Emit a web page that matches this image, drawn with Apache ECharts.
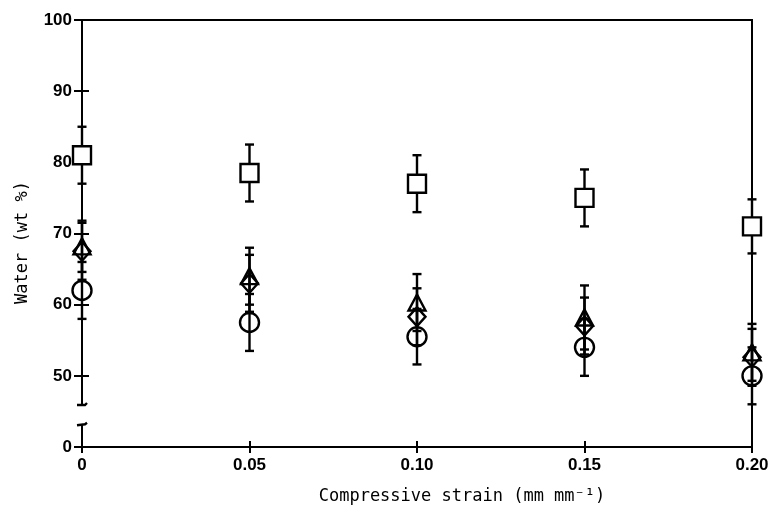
<!DOCTYPE html>
<html><head><meta charset="utf-8">
<script src="https://cdn.jsdelivr.net/npm/echarts@6/dist/echarts.min.js"></script>
<style>html,body{margin:0;padding:0;background:#fff}#c{width:773px;height:517px}</style>
</head><body><div id="c"></div>
<script>
// x values: compressive strain (mm mm-1)
const strain = [0, 0.05, 0.10, 0.15, 0.20];
const xTickLabels = ['0', '0.05', '0.10', '0.15', '0.20'];
// water content (wt %), four sample groups, with +/- error
const squareVals   = [81, 78.5, 77, 75, 71];
const squareErr    = [4, 4, 4, 4, 3.8];
const triangleVals = [68.2, 64, 60.3, 58.2, 53.3];
const triangleErr  = [3.6, 4, 4, 4.5, 4];
const diamondVals  = [67.5, 63, 58.3, 57, 52.6];
const diamondErr   = [4, 4, 4, 4, 4];
const circleVals   = [62, 57.5, 55.5, 54, 50];
const circleErr    = [4, 4, 3.9, 4, 4];
// broken y axis: plotted positions and the labels shown there
const yTickValues = [40, 50, 60, 70, 80, 90, 100];
const yTickLabels = ['0', '50', '60', '70', '80', '90', '100'];
const yBreak = [43.2, 45.9];

const pts = v => strain.map((x, i) => [x, v[i]]);
const errs = (v, e) => strain.map((x, i) => [x, v[i] - e[i], v[i] + e[i]]);
const errData = [].concat(errs(squareVals, squareErr), errs(triangleVals, triangleErr),
  errs(diamondVals, diamondErr), errs(circleVals, circleErr));

const lw = 2.4;
function errRender(params, api) {
  const x = api.value(0), lo = api.value(1), hi = api.value(2);
  const p1 = api.coord([x, hi]), p2 = api.coord([x, lo]);
  const w = 4.5;
  const st = { stroke: '#000', lineWidth: lw };
  return { type: 'group', children: [
    { type: 'line', shape: { x1: p1[0], y1: p1[1], x2: p2[0], y2: p2[1] }, style: st },
    { type: 'line', shape: { x1: p1[0] - w, y1: p1[1], x2: p1[0] + w, y2: p1[1] }, style: st },
    { type: 'line', shape: { x1: p2[0] - w, y1: p2[1], x2: p2[0] + w, y2: p2[1] }, style: st }
  ]};
}
function breakRender(params, api) {
  const x = api.value(0), lo = api.value(1), hi = api.value(2);
  const a = api.coord([x, hi]), b = api.coord([x, lo]);
  const st = { stroke: '#000', lineWidth: lw };
  return { type: 'group', children: [
    { type: 'rect', shape: { x: a[0] - 5, y: a[1], width: 10, height: b[1] - a[1] }, style: { fill: '#fff' } },
    { type: 'polyline', shape: { points: [[a[0] - 5, a[1]], [a[0] + 3, a[1]], [a[0] + 5, a[1] - 2]] }, style: { ...st, fill: null } },
    { type: 'polyline', shape: { points: [[b[0] - 5, b[1] + 1], [b[0] + 3, b[1]], [b[0] + 5, b[1] - 1.5]] }, style: { ...st, fill: null } }
  ]};
}

const labelFont = { color: '#000', fontFamily: 'Liberation Sans', fontWeight: 'bold', fontSize: 17 };
const titleFont = { color: '#000', fontFamily: 'DejaVu Sans Mono', fontSize: 17 };
const axLine = { show: true, lineStyle: { color: '#000', width: 2 } };
const tickStyle = { color: '#000', width: 2 };
const mk = fill => ({ color: fill, borderColor: '#000', borderWidth: 2.4, opacity: 1 });

const chart = echarts.init(document.getElementById('c'));
chart.setOption({
  animation: false,
  backgroundColor: '#fff',
  grid: { left: 82, right: 21, top: 20, bottom: 70, show: true, borderColor: '#000', borderWidth: 2 },
  xAxis: [
    { type: 'value', min: 0, max: 0.2, interval: 0.05, position: 'bottom',
      axisLine: axLine, splitLine: { show: false },
      axisTick: { show: true, inside: false, length: 6, lineStyle: tickStyle },
      axisLabel: { ...labelFont, margin: 10,
        formatter: v => xTickLabels[Math.round(v / 0.05)] },
      name: 'Compressive strain (mm mm⁻¹)', nameLocation: 'middle', nameGap: 41,
      nameTextStyle: { ...titleFont, padding: [0, 0, 0, 90] } },
    { type: 'value', min: 0, max: 0.2, interval: 0.05, position: 'bottom',
      axisLine: { show: false }, splitLine: { show: false }, axisLabel: { show: false },
      axisTick: { show: true, inside: true, length: 6, lineStyle: tickStyle } }
  ],
  yAxis: [
    { type: 'value', min: 40, max: 100, interval: 10, position: 'left',
      axisLine: axLine, splitLine: { show: false },
      axisTick: { show: true, inside: false, length: 8, lineStyle: tickStyle },
      axisLabel: { ...labelFont, margin: 10,
        formatter: v => yTickLabels[yTickValues.indexOf(v)] },
      name: 'Water (wt %)', nameLocation: 'middle', nameGap: 51,
      nameTextStyle: { ...titleFont, padding: [0, 18, 0, 0] } },
    { type: 'value', min: 40, max: 100, interval: 10, position: 'left',
      axisLine: { show: false }, splitLine: { show: false }, axisLabel: { show: false },
      axisTick: { show: true, inside: true, length: 7, lineStyle: tickStyle } }
  ],
  series: [
    { type: 'custom', name: 'errors', renderItem: errRender, data: errData, clip: false, z: 2 },
    { type: 'custom', name: 'break', renderItem: breakRender, data: [[0, yBreak[0], yBreak[1]]], clip: false, z: 3 },
    { type: 'scatter', name: 'square', data: pts(squareVals), symbol: 'rect', symbolSize: 18, z: 4,
      itemStyle: mk('#fff') },
    { type: 'scatter', name: 'triangle', data: pts(triangleVals), symbol: 'triangle', symbolSize: [17, 16], z: 4,
      itemStyle: mk('rgba(0,0,0,0)') },
    { type: 'scatter', name: 'diamond', data: pts(diamondVals), symbol: 'diamond', symbolSize: [17, 19], z: 4,
      itemStyle: mk('rgba(0,0,0,0)') },
    { type: 'scatter', name: 'circle', data: pts(circleVals), symbol: 'circle', symbolSize: 19, z: 4,
      itemStyle: mk('rgba(0,0,0,0)') }
  ]
});
</script></body></html>
